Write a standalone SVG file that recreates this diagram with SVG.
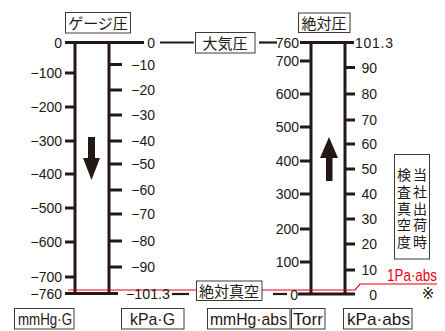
<svg xmlns="http://www.w3.org/2000/svg" width="445" height="331" viewBox="0 0 445 331">
<style>
.bg{fill:#fff}
.ax{stroke:#231815;stroke-width:3;fill:none}
.tk{stroke:#231815;stroke-width:3}
.cn{stroke:#231815;stroke-width:2.2}
.box{fill:#fff;stroke:#3a3a3a;stroke-width:1}
.n{font-family:"Liberation Sans",Arial,sans-serif;font-size:14px;fill:#231815}
.e{text-anchor:end}
.j{font-family:"Noto Sans CJK JP",sans-serif;font-size:15px;fill:#231815;text-anchor:middle}
.jv{font-family:"Noto Sans CJK JP",sans-serif;font-size:14px;fill:#231815;writing-mode:vertical-rl;letter-spacing:2.6px}
.u{font-family:"Liberation Sans",Arial,sans-serif;font-size:17px;fill:#231815}
.red{stroke:#e60012;stroke-width:1.2;fill:none}
.rt{font-family:"Liberation Sans",Arial,sans-serif;font-size:17px;fill:#e60012}
.ar{fill:#231815}
.mk{font-family:"DejaVu Sans","Noto Sans CJK JP",sans-serif;font-size:15px;fill:#231815;text-anchor:middle}
</style>
<rect class="bg" x="0" y="0" width="445" height="331"/>

<g id="connectors">
  <line class="ax" x1="75" y1="42.5" x2="75" y2="293.5"/>
  <line class="ax" x1="109" y1="42.5" x2="109" y2="293.5"/>
  <line class="ax" x1="65" y1="42.5" x2="144" y2="42.5"/>
  <line class="ax" x1="65" y1="293.5" x2="118" y2="293.5"/>
  <g class="tk">
    <line x1="65" y1="73" x2="75" y2="73"/>
    <line x1="65" y1="107" x2="75" y2="107"/>
    <line x1="65" y1="141" x2="75" y2="141"/>
    <line x1="65" y1="174" x2="75" y2="174"/>
    <line x1="65" y1="208" x2="75" y2="208"/>
    <line x1="65" y1="242" x2="75" y2="242"/>
    <line x1="65" y1="277" x2="75" y2="277"/>
    <line x1="109" y1="64.5" x2="122" y2="64.5"/>
    <line x1="109" y1="90" x2="122" y2="90"/>
    <line x1="109" y1="115" x2="122" y2="115"/>
    <line x1="109" y1="141" x2="122" y2="141"/>
    <line x1="109" y1="164" x2="122" y2="164"/>
    <line x1="109" y1="190" x2="122" y2="190"/>
    <line x1="109" y1="214" x2="122" y2="214"/>
    <line x1="109" y1="241" x2="122" y2="241"/>
    <line x1="109" y1="267" x2="122" y2="267"/>
  </g>
  <line class="ax" x1="311" y1="42.5" x2="311" y2="294"/>
  <line class="ax" x1="345" y1="42.5" x2="345" y2="294"/>
  <line class="ax" x1="300" y1="42.5" x2="354" y2="42.5"/>
  <line class="ax" x1="298" y1="294" x2="355" y2="294"/>
  <g class="tk">
    <line x1="300" y1="61" x2="311" y2="61"/>
    <line x1="300" y1="94" x2="311" y2="94"/>
    <line x1="300" y1="127" x2="311" y2="127"/>
    <line x1="300" y1="161" x2="311" y2="161"/>
    <line x1="300" y1="194" x2="311" y2="194"/>
    <line x1="300" y1="229" x2="311" y2="229"/>
    <line x1="300" y1="262" x2="311" y2="262"/>
    <line x1="345" y1="67.5" x2="355" y2="67.5"/>
    <line x1="345" y1="94" x2="355" y2="94"/>
    <line x1="345" y1="120" x2="355" y2="120"/>
    <line x1="345" y1="144" x2="355" y2="144"/>
    <line x1="345" y1="169" x2="355" y2="169"/>
    <line x1="345" y1="194" x2="355" y2="194"/>
    <line x1="345" y1="219" x2="355" y2="219"/>
    <line x1="345" y1="244" x2="355" y2="244"/>
    <line x1="345" y1="270" x2="355" y2="270"/>
  </g>
  <line class="cn" x1="160" y1="42.5" x2="194" y2="42.5"/>
  <line class="cn" x1="259" y1="42.5" x2="277" y2="42.5"/>
  <line class="cn" x1="172" y1="294" x2="189" y2="294"/>
  <line class="cn" x1="273" y1="294" x2="287" y2="294"/>
  <polyline class="red" points="68,290 355,290 360,284 437,284"/>
</g>

<g id="arrow-down">
  <rect class="ar" x="88" y="137" width="7" height="22"/>
  <polygon class="ar" points="83,158 100,158 91.5,180"/>
</g>
<g id="arrow-up">
  <polygon class="ar" points="320,158 338,158 329,137"/>
  <rect class="ar" x="326" y="157" width="6.5" height="24"/>
</g>

<g id="labels-mmHgG" class="n e">
  <text x="62" y="47.5">0</text>
  <text x="62" y="78">−100</text>
  <text x="62" y="112">−200</text>
  <text x="62" y="146">−300</text>
  <text x="62" y="179">−400</text>
  <text x="62" y="213">−500</text>
  <text x="62" y="247">−600</text>
  <text x="62" y="282">−700</text>
  <text x="62" y="298.5">−760</text>
</g>
<g id="labels-kPaG" class="n">
  <text class="e" x="155" y="47.5">0</text>
  <text class="e" x="155" y="69.5">−10</text>
  <text class="e" x="155" y="95">−20</text>
  <text class="e" x="155" y="120">−30</text>
  <text class="e" x="155" y="146">−40</text>
  <text class="e" x="155" y="169">−50</text>
  <text class="e" x="155" y="195">−60</text>
  <text class="e" x="155" y="219">−70</text>
  <text class="e" x="155" y="246">−80</text>
  <text class="e" x="155" y="272">−90</text>
  <text x="126" y="299" textLength="44" lengthAdjust="spacingAndGlyphs">−101.3</text>
</g>
<g id="labels-mmHgabs" class="n e">
  <text x="299" y="47.5">760</text>
  <text x="299" y="66">700</text>
  <text x="299" y="99">600</text>
  <text x="299" y="132">500</text>
  <text x="299" y="166">400</text>
  <text x="299" y="199">300</text>
  <text x="299" y="234">200</text>
  <text x="299" y="267">100</text>
  <text x="298" y="299.5">0</text>
</g>
<g id="labels-kPaabs" class="n">
  <text x="355" y="48" textLength="38" lengthAdjust="spacing">101.3</text>
  <text class="e" x="377" y="72.5">90</text>
  <text class="e" x="377" y="99">80</text>
  <text class="e" x="377" y="125">70</text>
  <text class="e" x="377" y="149">60</text>
  <text class="e" x="377" y="174">50</text>
  <text class="e" x="377" y="199">40</text>
  <text class="e" x="377" y="224">30</text>
  <text class="e" x="377" y="249">20</text>
  <text class="e" x="377" y="275">10</text>
  <text class="e" x="377" y="300">0</text>
</g>

<g id="gauge-pressure">
  <rect class="box" x="65.5" y="12.5" width="65" height="20.5"/>
  <text class="j" x="98" y="28.5">ゲージ圧</text>
</g>
<g id="atmospheric">
  <rect class="box" x="195.5" y="32.5" width="59.5" height="20.5"/>
  <text class="j" x="225" y="48.5">大気圧</text>
</g>
<g id="absolute-pressure">
  <rect class="box" x="298.5" y="13" width="51.5" height="19.5"/>
  <text class="j" x="324" y="28.5">絶対圧</text>
</g>
<g id="absolute-vacuum">
  <rect class="box" x="196.5" y="281" width="65.5" height="19.5"/>
  <text class="j" x="229" y="296.5">絶対真空</text>
</g>
<g id="factory-note">
  <rect class="box" x="394.5" y="154.5" width="35" height="104.5"/>
  <text class="jv" x="420" y="168">当社出荷時</text>
  <text class="jv" x="404" y="168">検査真空度</text>
</g>
<g id="one-pa">
  <text class="rt" x="387" y="280.5" textLength="50" lengthAdjust="spacingAndGlyphs">1Pa·abs</text>
</g>
<g id="note-mark">
  <text class="mk" x="428" y="298.5">※</text>
</g>

<g id="unit-mmHgG">
  <rect class="box" x="14.5" y="308.5" width="59.5" height="20.5"/>
  <text class="u" x="18" y="324.5" textLength="54" lengthAdjust="spacingAndGlyphs">mmHg·G</text>
</g>
<g id="unit-kPaG">
  <rect class="box" x="121.5" y="308.5" width="62.5" height="20.5"/>
  <text class="u" x="130" y="324.5" textLength="45" lengthAdjust="spacingAndGlyphs">kPa·G</text>
</g>
<g id="unit-mmHgabs">
  <rect class="box" x="207.5" y="308.5" width="82.5" height="20.5"/>
  <text class="u" x="210" y="324.5" textLength="77" lengthAdjust="spacingAndGlyphs">mmHg·abs</text>
</g>
<g id="unit-Torr">
  <rect class="box" x="291.5" y="308.5" width="33.5" height="20.5"/>
  <text class="u" x="293" y="324.5" textLength="30" lengthAdjust="spacingAndGlyphs">Torr</text>
</g>
<g id="unit-kPaabs">
  <rect class="box" x="343.5" y="308.5" width="68.5" height="20.5"/>
  <text class="u" x="347" y="324.5" textLength="63" lengthAdjust="spacingAndGlyphs">kPa·abs</text>
</g>
</svg>
